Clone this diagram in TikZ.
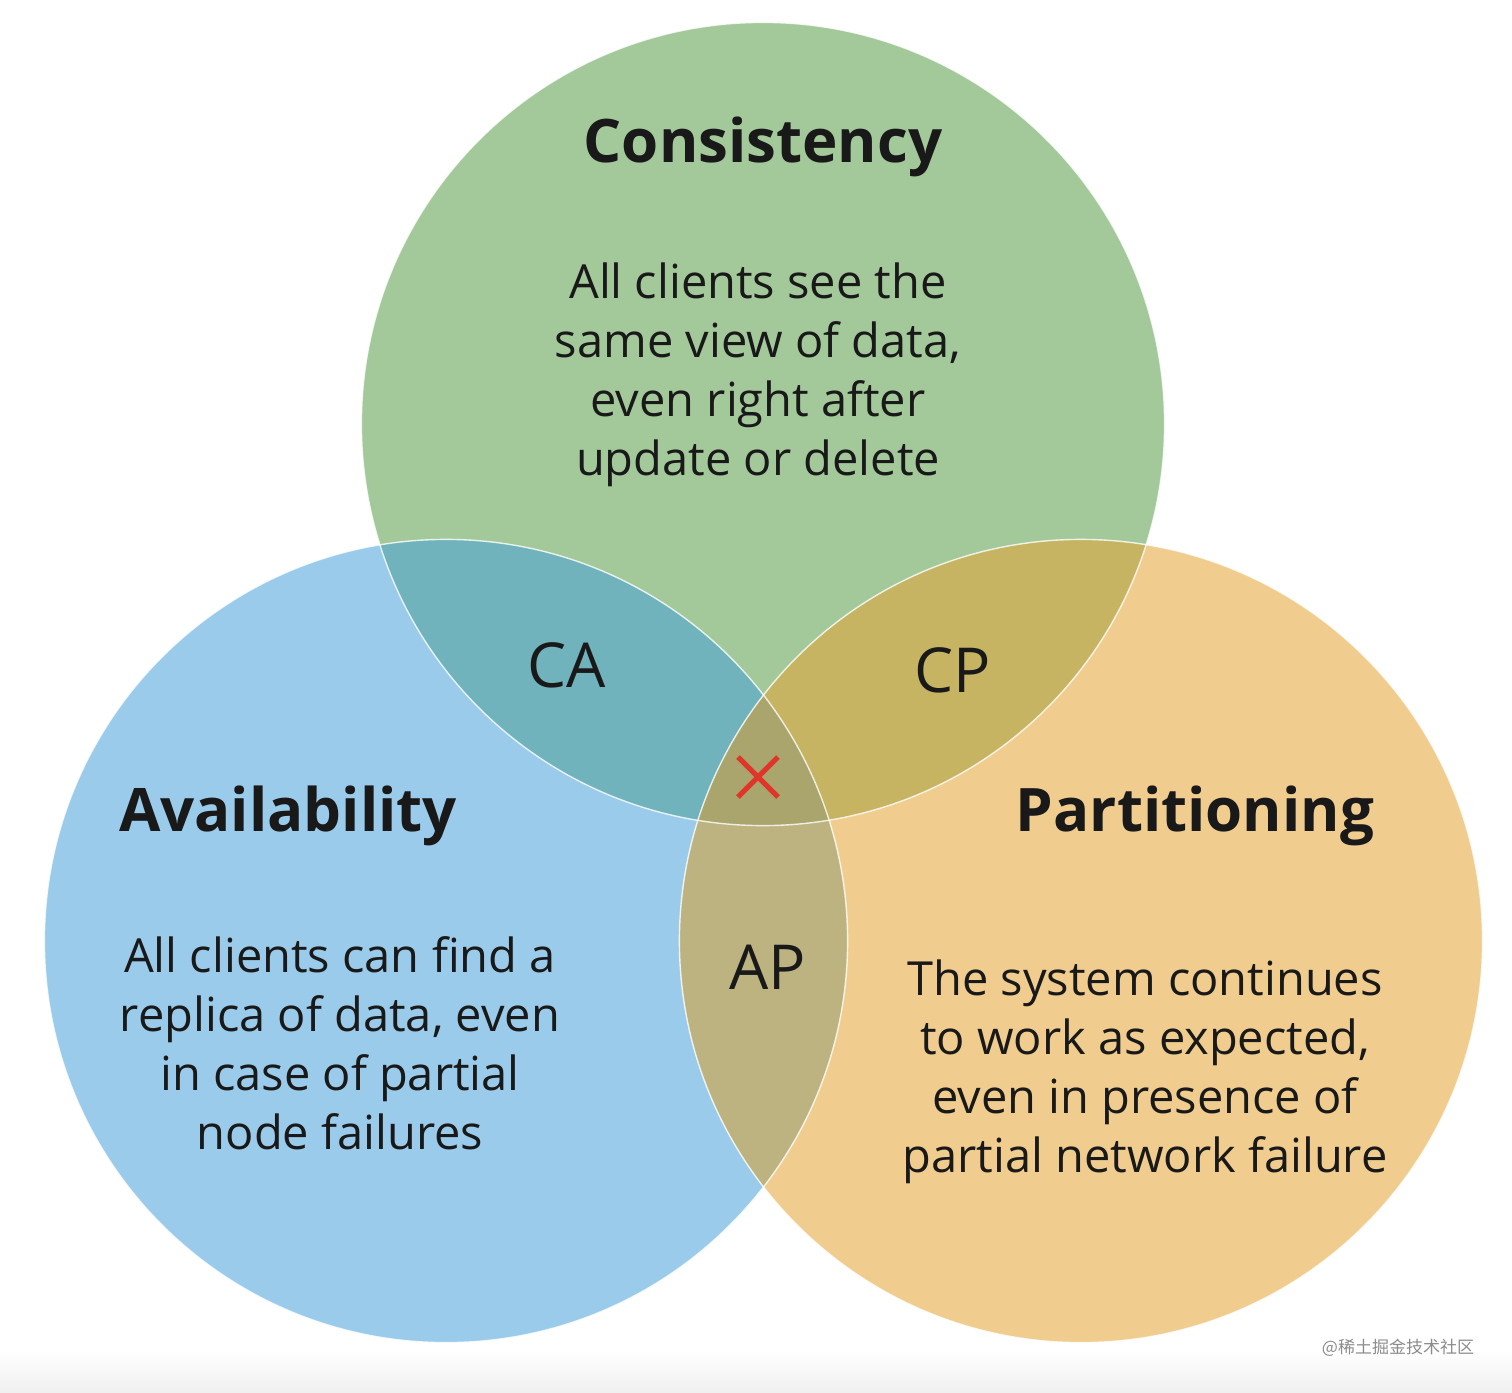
\documentclass[tikz,border=0pt]{standalone}
\usepackage{fontspec}
\setmainfont{Open Sans}
\newfontfamily\cjk{Noto Sans CJK SC}
\definecolor{cgreen}{HTML}{A3C99A}
\definecolor{cblue}{HTML}{9ACBEB}
\definecolor{corange}{HTML}{F0CD8F}
\definecolor{colCA}{HTML}{70B3BD}
\definecolor{colCP}{HTML}{C6B462}
\definecolor{colAP}{HTML}{BDB381}
\definecolor{colCen}{HTML}{A9A56C}
\definecolor{xred}{HTML}{E0352B}
\tikzset{
  title/.style={font=\fontsize{30}{34}\selectfont\bfseries, text=black!90},
  body/.style={font=\fontsize{23.5}{29.5}\selectfont, align=center, text=black!90},
  pair/.style={font=\fontsize{31}{34}\selectfont, text=black!90},
  rim/.style={draw=white, line width=0.7pt, draw opacity=0.8}
}
\begin{document}
\begin{tikzpicture}[x=0.5pt,y=-0.5pt]
\useasboundingbox (0,0) rectangle (1512,1393);
\fill[white] (0,0) rectangle (1512,1393);
\shade[top color=white, bottom color=black!6] (0,1350) rectangle (1512,1393);
\coordinate (G) at (763,424);
\coordinate (B) at (446,941);
\coordinate (O) at (1081,941);
\def\R{200.8pt}
\fill[cblue] (B) circle[radius=\R];
\fill[corange] (O) circle[radius=\R];
\fill[cgreen] (G) circle[radius=\R];
\begin{scope}
  \clip (G) circle[radius=\R];
  \fill[colCA] (B) circle[radius=\R];
  \fill[colCP] (O) circle[radius=\R];
\end{scope}
\begin{scope}
  \clip (B) circle[radius=\R];
  \fill[colAP] (O) circle[radius=\R];
  \clip (G) circle[radius=\R];
  \fill[colCen] (O) circle[radius=\R];
\end{scope}
\draw[rim] (G) circle[radius=\R];
\draw[rim] (B) circle[radius=\R];
\draw[rim] (O) circle[radius=\R];

\node[title] (tc) at (763,147) {Consistency};
\node[body] (bc) at (758,375) {All clients see the\\same view of data,\\even right after\\update or delete};
\node[title] (ta) at (288,816) {Availability};
\node[body] (ba) at (340,1043) {All clients can find a\\replica of data, even\\in case of partial\\node failures};
\node[title] (tp) at (1195,816) {Partitioning};
\node[body] (bp) at (1145,1072) {The system continues\\to work as expected,\\even in presence of\\partial network failure};
\node[pair] (ca) at (567,665) {CA};
\node[pair] (cp) at (953,670) {CP};
\node[pair] (ap) at (768,967) {AP};
\coordinate (x1) at (738,757);
\coordinate (x2) at (778,797);
\coordinate (x3) at (778,757);
\coordinate (x4) at (738,797);
\draw[xred, line width=2.6pt] (x1) -- (x2) (x3) -- (x4);
\node[font=\cjk\fontsize{8.5}{10}\selectfont, text=black!45] (wm) at (1398,1348) {@稀土掘金技术社区};
\end{tikzpicture}
\end{document}
